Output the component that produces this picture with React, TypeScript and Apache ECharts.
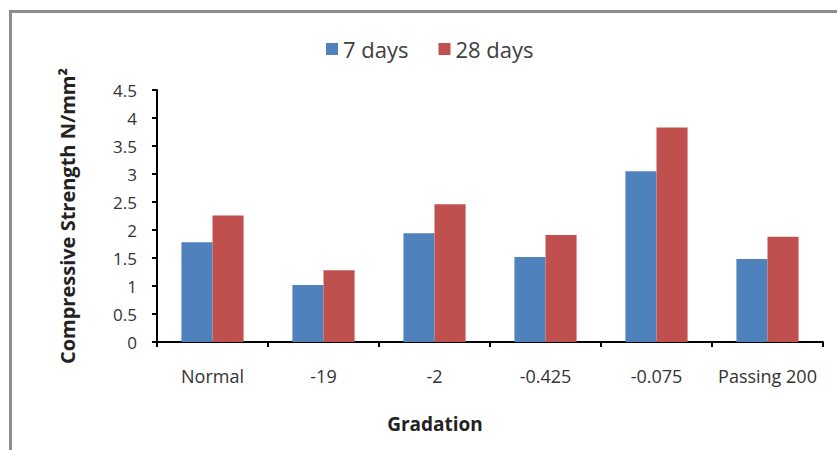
import React, { useEffect, useRef } from "react";
import * as echarts from "echarts";

const categories = ["Normal", "-19", "-2", "-0.425", "-0.075", "Passing 200"];
const days7 = [1.78, 1.02, 1.94, 1.52, 3.05, 1.48];
const days28 = [2.26, 1.28, 2.46, 1.91, 3.83, 1.88];
const seriesNames = ["7 days", "28 days"];

export default function App() {
  const ref = useRef<HTMLDivElement>(null);
  useEffect(() => {
    if (!ref.current) return;
    const chart = echarts.init(ref.current, null, { renderer: "svg" });
    const font = "'Open Sans', sans-serif";
    chart.setOption({
      animation: false,
      backgroundColor: "#ffffff",
      graphic: [
        {
          type: "rect",
          shape: { x: 10.5, y: 11.5, width: 900, height: 500 },
          style: { fill: "none", stroke: "#8c8c8c", lineWidth: 3 },
          silent: true,
          z: -1,
        },
      ],
      legend: {
        left: 321,
        top: 33,
        itemWidth: 12,
        itemHeight: 12,
        itemGap: 30,
        icon: "rect",
        textStyle: { fontFamily: font, fontSize: 22, color: "#404040" },
        data: seriesNames,
      },
      grid: { left: 157, right: 14, top: 90, bottom: 108 },
      xAxis: {
        type: "category",
        data: categories,
        boundaryGap: true,
        name: "Gradation",
        nameLocation: "middle",
        nameGap: 72,
        nameTextStyle: {
          fontFamily: font,
          fontSize: 19,
          fontWeight: "bold",
          color: "#222",
          padding: [0, 110, 0, 0],
        },
        axisLine: { lineStyle: { color: "#000", width: 2 } },
        axisTick: { show: true, interval: 0, length: 5, lineStyle: { color: "#000", width: 2 } },
        axisLabel: { interval: 0, fontFamily: font, fontSize: 18, color: "#333", margin: 25 },
      },
      yAxis: {
        type: "value",
        min: 0,
        max: 4.5,
        interval: 0.5,
        name: "Compressive Strength N/mm²",
        nameLocation: "middle",
        nameGap: 80,
        nameRotate: 90,
        nameTextStyle: { fontFamily: font, fontSize: 20, fontWeight: "bold", color: "#222" },
        axisLine: { show: true, lineStyle: { color: "#000", width: 2 } },
        axisTick: { show: true, length: 5, lineStyle: { color: "#000", width: 2 } },
        splitLine: { show: false },
        axisLabel: { fontFamily: font, fontSize: 17, color: "#333", margin: 20 },
      },
      series: [
        {
          name: seriesNames[0],
          type: "bar",
          data: days7,
          barGap: "0%",
          barCategoryGap: "44%",
          itemStyle: { color: "#4F81BD" },
        },
        {
          name: seriesNames[1],
          type: "bar",
          data: days28,
          barGap: "0%",
          barCategoryGap: "44%",
          itemStyle: { color: "#C0504D" },
        },
      ],
    });
    return () => chart.dispose();
  }, []);
  return (
    <div
      ref={ref}
      style={{ position: "fixed", left: 0, top: 0, width: 837, height: 450 }}
    />
  );
}
